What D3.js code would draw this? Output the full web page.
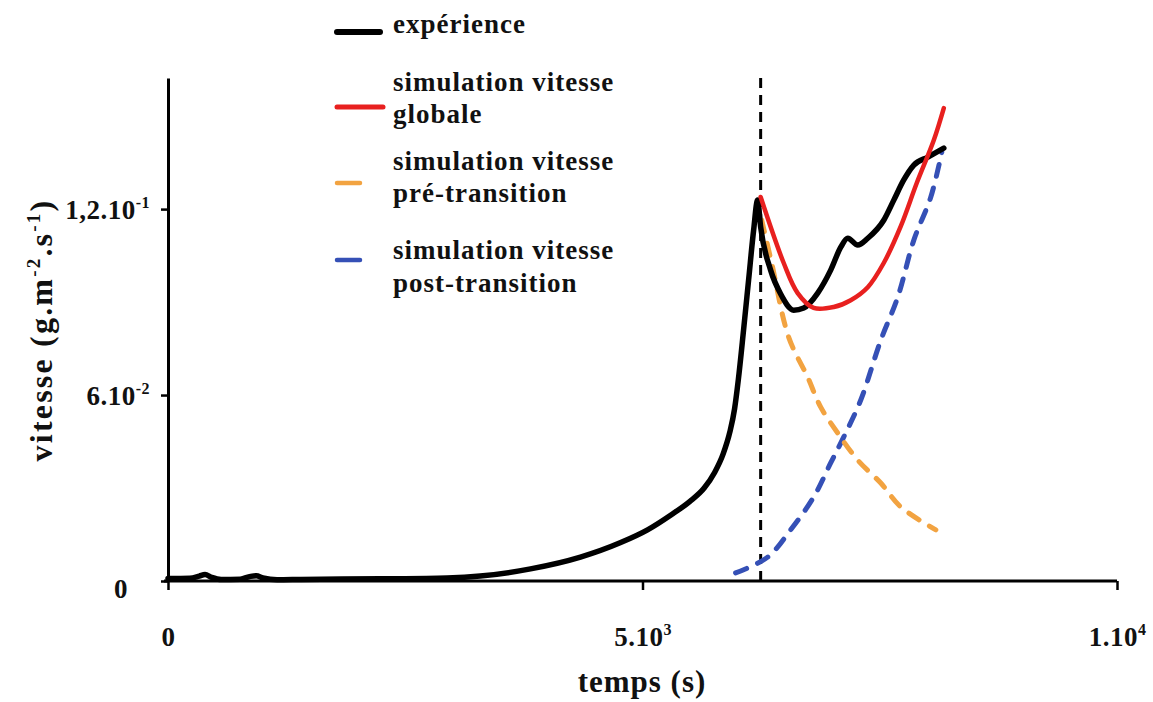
<!DOCTYPE html>
<html>
<head>
<meta charset="utf-8">
<script src="https://cdn.jsdelivr.net/npm/d3@7"></script>
<style>
  html, body { margin: 0; padding: 0; background: #fff; }
  svg { display: block; }
  text { font-family: "Liberation Serif", "Times New Roman", serif; font-weight: bold; fill: #111; }
</style>
</head>
<body>
<svg id="chart" width="1153" height="702"></svg>
<script>
// Measured rate (time in s, rate in g.m-2.s-1)
const experience = [
  [0, 0.0008], [230, 0.0009], [330, 0.0016], [390, 0.0021], [460, 0.0012], [560, 0.0005],
  [760, 0.0006], [870, 0.0015], [930, 0.0017], [1000, 0.0010], [1150, 0.0004], [1400, 0.0005],
  [2240, 0.0007], [2940, 0.0010], [3290, 0.0016], [3820, 0.0039], [4346, 0.0077], [4770, 0.0124],
  [5053, 0.0165], [5300, 0.0213], [5500, 0.0257], [5650, 0.0300], [5760, 0.0350], [5850, 0.0410],
  [5920, 0.0480], [5970, 0.0555], [6010, 0.0650], [6065, 0.0810], [6118, 0.0971], [6171, 0.1132],
  [6213, 0.1229], [6245, 0.1142], [6350, 0.1003], [6456, 0.0926], [6593, 0.0874], [6699, 0.0881],
  [6846, 0.0929], [6983, 0.1003], [7089, 0.1077], [7163, 0.1106], [7268, 0.1084], [7374, 0.1106],
  [7542, 0.1164], [7648, 0.1229], [7753, 0.1294], [7859, 0.1342], [8007, 0.1368], [8175, 0.1397]
];

// Simulated global rate
const globale = [
  [6245, 0.1239], [6488, 0.1026], [6635, 0.0929], [6804, 0.0881], [7015, 0.0884], [7194, 0.0906],
  [7374, 0.0948], [7542, 0.1026], [7722, 0.1145], [7890, 0.1284], [8070, 0.1423], [8175, 0.1526]
];

// Simulated pre-transition rate
const preTransition = [
  [6256, 0.1165], [6361, 0.1026], [6540, 0.0787], [6740, 0.0658], [6878, 0.0561], [7058, 0.0477],
  [7268, 0.0390], [7511, 0.0316], [7722, 0.0239], [8091, 0.0165]
];

// Simulated post-transition rate
const postTransition = [
  [5981, 0.0026], [6319, 0.0077], [6561, 0.0165], [6804, 0.0271], [6983, 0.0381], [7121, 0.0465],
  [7300, 0.0584], [7511, 0.0777], [7690, 0.0916], [7859, 0.1100], [8038, 0.1239], [8154, 0.1384]
];

const transitionTime = 6245;

const xTicks = [0, 5000, 10000];
const xTickBase = ["0", "5.10", "1.10"];
const xTickExp = ["", "3", "4"];

const yTicks = [0, 0.06, 0.12];
const yTickBase = ["0", "6.10", "1,2.10"];
const yTickExp = ["", "-2", "-1"];

const legendLabels = [
  ["expérience"],
  ["simulation vitesse", "globale"],
  ["simulation vitesse", "pré-transition"],
  ["simulation vitesse", "post-transition"]
];

const svg = d3.select("#chart");

const x = d3.scaleLinear().domain([0, 10000]).range([168, 1117]);
const y = d3.scaleLinear().domain([0, 0.1623]).range([581, 78]);

// x axis
const gx = svg.append("g")
  .attr("transform", `translate(0,${y(0)})`)
  .call(d3.axisBottom(x).tickValues(xTicks).tickSize(9).tickSizeOuter(0));
gx.select(".domain").attr("stroke", "#000").attr("stroke-width", 3).attr("d", `M${x(0) - 4},0H${x(10000)}`);
gx.selectAll(".tick line").attr("stroke", "#000").attr("stroke-width", 2.5);
gx.selectAll(".tick text").each(function (d, i) {
  const t = d3.select(this).text(null)
    .attr("y", 65).attr("dy", null)
    .attr("font-size", 27).attr("letter-spacing", 0.5)
    .attr("fill", "#111");
  t.append("tspan").text(xTickBase[i]);
  if (xTickExp[i]) t.append("tspan").attr("dy", -11).attr("font-size", 16).text(xTickExp[i]);
});

// y axis
const gy = svg.append("g")
  .attr("transform", `translate(${x(0)},0)`)
  .call(d3.axisLeft(y).tickValues(yTicks).tickSize(7).tickSizeOuter(0));
gy.select(".domain").attr("stroke", "#000").attr("stroke-width", 3);
gy.selectAll(".tick line").attr("stroke", "#000").attr("stroke-width", 2.5);
gy.selectAll(".tick text").each(function (d, i) {
  const t = d3.select(this).text(null)
    .attr("x", d === 0 ? -40 : -18)
    .attr("dy", d === 0 ? "0.62em" : "0.36em")
    .attr("font-size", 27).attr("letter-spacing", 0.5)
    .attr("text-anchor", "end")
    .attr("fill", "#111");
  t.append("tspan").text(yTickBase[i]);
  if (yTickExp[i]) t.append("tspan").attr("dy", -11).attr("font-size", 16).text(yTickExp[i]);
});

// axis titles
svg.append("text")
  .attr("x", 642).attr("y", 692)
  .attr("text-anchor", "middle")
  .attr("font-size", 31).attr("letter-spacing", 1)
  .text("temps (s)");

const yTitle = svg.append("text")
  .attr("transform", "translate(52,330) rotate(-90)")
  .attr("text-anchor", "middle")
  .attr("font-size", 32).attr("letter-spacing", 2.2);
yTitle.append("tspan").text("vitesse (g.m");
yTitle.append("tspan").attr("dy", -12).attr("font-size", 19).text("-2");
yTitle.append("tspan").attr("dy", 12).text(".s");
yTitle.append("tspan").attr("dy", -12).attr("font-size", 19).text("-1");
yTitle.append("tspan").attr("dy", 12).text(")");

// transition marker
svg.append("line")
  .attr("x1", x(transitionTime)).attr("x2", x(transitionTime))
  .attr("y1", y(0)).attr("y2", y.range()[1])
  .attr("stroke", "#000").attr("stroke-width", 3)
  .attr("stroke-dasharray", "10,7");

const measuredLine = d3.line()
  .x(d => x(d[0]))
  .y(d => y(d[1]))
  .curve(d3.curveMonotoneX);

const simLine = d3.line()
  .x(d => x(d[0]))
  .y(d => y(d[1]))
  .curve(d3.curveCatmullRom.alpha(0.5));

const series = [
  { data: postTransition, color: "#3550b6", width: 5, dash: "12,12", gen: simLine },
  { data: preTransition, color: "#f2a341", width: 5, dash: "12,12", gen: simLine },
  { data: experience, color: "#000000", width: 5.5, dash: null, gen: measuredLine },
  { data: globale, color: "#e8201f", width: 4.5, dash: null, gen: simLine }
];

series.forEach(s => {
  svg.append("path")
    .datum(s.data)
    .attr("d", s.gen)
    .attr("fill", "none")
    .attr("stroke", s.color)
    .attr("stroke-width", s.width)
    .attr("stroke-linecap", "round")
    .attr("stroke-linejoin", "round")
    .attr("stroke-dasharray", s.dash);
});

// legend
const legendColors = ["#000000", "#e8201f", "#f2a341", "#3550b6"];
const legendSwatchLen = [43, 46, 23, 23];
const legendSwatchW = [6, 5, 4.5, 4.5];
const legendSwatchY = [32, 107, 183, 260];
const legendBaselines = [[33], [91, 123], [170, 202], [259, 292]];

const lg = svg.append("g");
legendLabels.forEach((lines, i) => {
  lg.append("line")
    .attr("x1", 337).attr("x2", 337 + legendSwatchLen[i])
    .attr("y1", legendSwatchY[i]).attr("y2", legendSwatchY[i])
    .attr("stroke", legendColors[i])
    .attr("stroke-width", legendSwatchW[i])
    .attr("stroke-linecap", "round");
  lines.forEach((txt, j) => {
    lg.append("text")
      .attr("x", 393).attr("y", legendBaselines[i][j])
      .attr("font-size", 27).attr("letter-spacing", 1)
      .text(txt);
  });
});
</script>
</body>
</html>
